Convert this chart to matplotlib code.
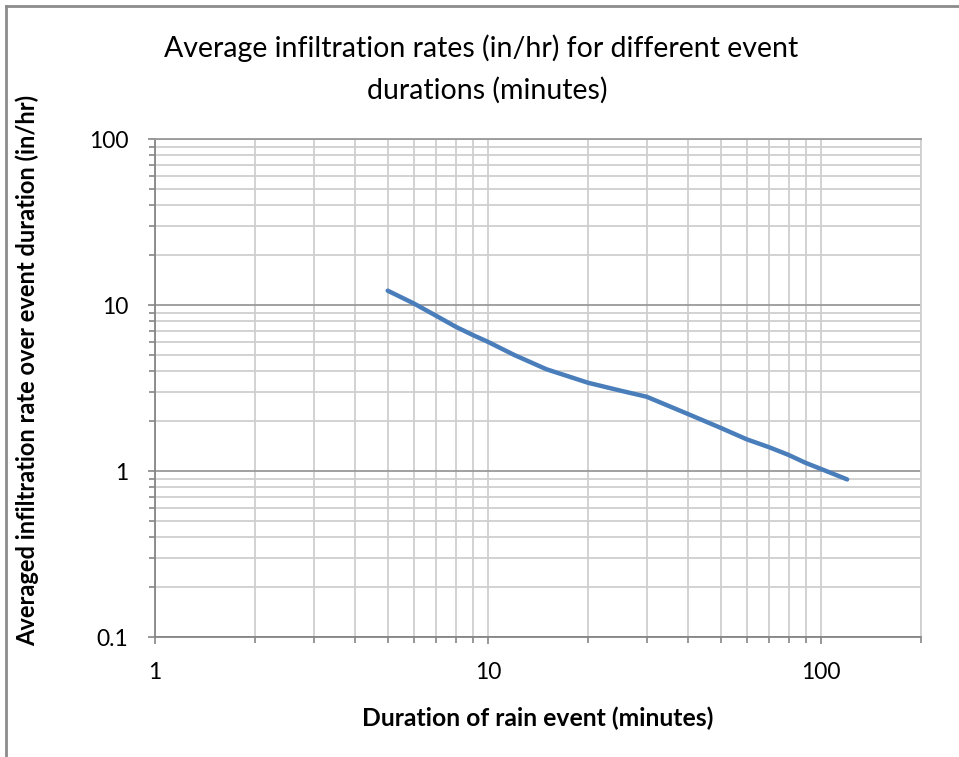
import matplotlib
matplotlib.use("Agg")
import matplotlib.pyplot as plt
from matplotlib.ticker import LogLocator, FixedLocator, FixedFormatter, NullFormatter
from matplotlib.lines import Line2D

# Data
duration_min = [5, 6, 7, 8, 9, 10, 12, 15, 20, 25, 30, 40, 50, 60, 70, 80, 90, 100, 120]
rate_in_hr = [12.2, 10.2, 8.6, 7.4, 6.6, 6.0, 5.0, 4.1, 3.4, 3.05, 2.8, 2.2, 1.82, 1.55, 1.39, 1.25, 1.12, 1.03, 0.89]

x_ticks = [1, 10, 100]
x_tick_labels = ["1", "10", "100"]
y_ticks = [0.1, 1, 10, 100]
y_tick_labels = ["0.1", "1", "10", "100"]

title_lines = ["Average infiltration rates (in/hr) for different event", "durations (minutes)"]
xlabel = "Duration of rain event (minutes)"
ylabel = "Averaged infiltration rate over event duration (in/hr)"

FONT = "Lato"
plt.rcParams["font.family"] = [FONT, "DejaVu Sans"]

W, H = 959, 757
L, R, T, B = 155, 921, 139, 637
fig = plt.figure(figsize=(W / 100, H / 100), dpi=100)
ax = fig.add_axes([L / W, 1 - B / H, (R - L) / W, (B - T) / H])

ax.set_xscale("log")
ax.set_yscale("log")
ax.set_xlim(1, 200)
ax.set_ylim(0.1, 100)

minor_c = "#cfcfcf"
major_c = "#9a9a9a"
axis_c = "#868686"

ax.xaxis.set_major_locator(FixedLocator(x_ticks))
ax.xaxis.set_major_formatter(FixedFormatter(x_tick_labels))
ax.xaxis.set_minor_locator(LogLocator(base=10, subs=range(2, 10), numticks=20))
ax.xaxis.set_minor_formatter(NullFormatter())
ax.yaxis.set_major_locator(FixedLocator(y_ticks))
ax.yaxis.set_major_formatter(FixedFormatter(y_tick_labels))
ax.yaxis.set_minor_locator(LogLocator(base=10, subs=range(2, 10), numticks=20))
ax.yaxis.set_minor_formatter(NullFormatter())

ax.grid(True, which="major", axis="y", color=major_c, lw=1.3)
ax.grid(True, which="minor", axis="y", color=minor_c, lw=1.3)
ax.grid(True, which="both", axis="x", color=minor_c, lw=1.3)
ax.set_axisbelow(True)

for s in ["left", "bottom"]:
    ax.spines[s].set_color(axis_c)
    ax.spines[s].set_linewidth(1.3)
ax.spines["top"].set_color(major_c)
ax.spines["top"].set_linewidth(1.3)
ax.spines["right"].set_color(minor_c)
ax.spines["right"].set_linewidth(1.3)

ax.tick_params(which="both", direction="out", color=axis_c, width=1.2)
ax.tick_params(which="major", length=5)
ax.tick_params(which="minor", length=4)
ax.tick_params(axis="x", which="major", pad=13, labelsize=16.5)
ax.tick_params(axis="y", which="major", pad=14, labelsize=16.5)
for lab in ax.get_xticklabels() + ax.get_yticklabels():
    lab.set_color("#000000")

ax.plot(duration_min, rate_in_hr, color="#4a7ebb", lw=3.2, solid_capstyle="round",
        solid_joinstyle="round", zorder=5)

ax.set_xlabel(xlabel, fontsize=17.8, fontweight="bold", va="center")
ax.xaxis.set_label_coords(0.5, (B - 718) / (B - T))
ax.set_ylabel(ylabel, fontsize=17, fontweight="bold", va="center")
ax.yaxis.set_label_coords((27 - L) / (R - L), (B - 370) / (B - T))

fig.text(481 / W, 1 - 48 / H, title_lines[0], ha="center", va="center", fontsize=20.5)
fig.text(487 / W, 1 - 90 / H, title_lines[1], ha="center", va="center", fontsize=20.5)

# chart area border (left and top visible)
fig.add_artist(Line2D([6 / W, 6 / W], [0, 1 - 6 / H], transform=fig.transFigure, color="#8c8c8c", lw=2))
fig.add_artist(Line2D([6 / W, 1], [1 - 6 / H, 1 - 6 / H], transform=fig.transFigure, color="#8c8c8c", lw=2))

fig.savefig("out.png", dpi=100)
